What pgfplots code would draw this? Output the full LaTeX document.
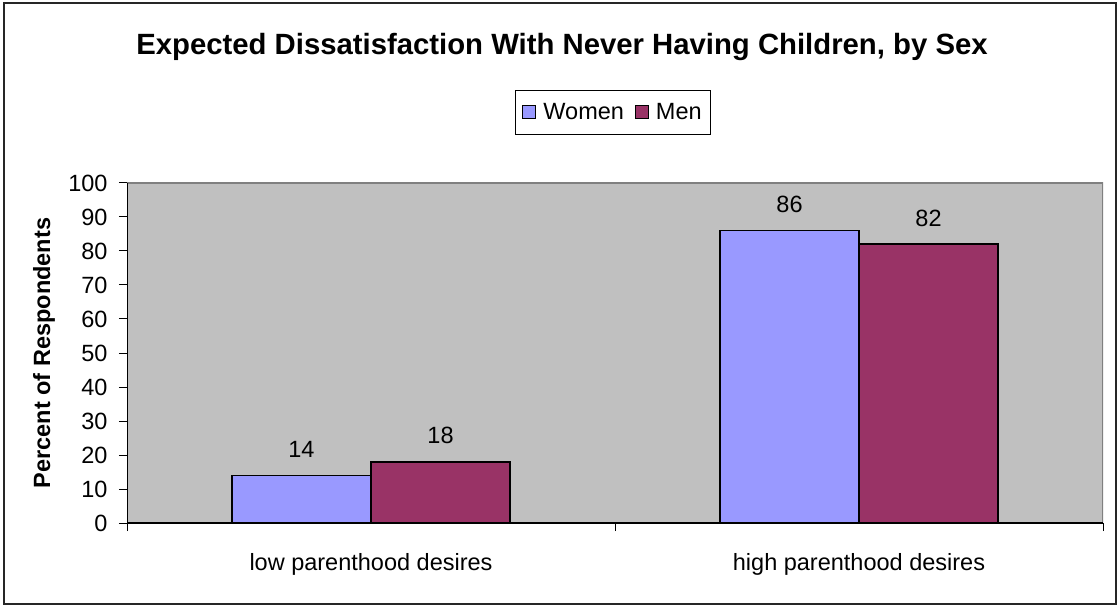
\documentclass[border=0pt]{standalone}
\usepackage{pgfplots}
\pgfplotsset{compat=1.18}
\usepackage{fontspec}
\setmainfont{Liberation Sans}

\definecolor{plotgrey}{HTML}{C0C0C0}
\definecolor{framegrey}{HTML}{808080}
\definecolor{women}{HTML}{9999FF}
\definecolor{men}{HTML}{993366}

\newcommand{\labfont}{\fontsize{23.5}{28}\selectfont}

\begin{document}
\begin{tikzpicture}
\useasboundingbox (0pt,0pt) rectangle (1118pt,608pt);
\draw[line width=1.5pt, black!85] (4pt,4pt) rectangle (1116pt,605pt);

\node[font=\fontsize{29.3}{34}\selectfont\bfseries] at (562pt,561pt)
  {Expected Dissatisfaction With Never Having Children, by Sex};

\begin{axis}[
  at={(127pt,85pt)}, anchor=south west,
  scale only axis, width=976pt, height=340pt,
  xmin=0, xmax=2, ymin=0, ymax=100,
  axis line style={draw=none},
  axis background/.style={fill=plotgrey},
  ybar, bar width=139pt,
  xtick={0,1,2}, xticklabels={},
  extra x ticks={0.5,1.5},
  extra x tick labels={low parenthood desires, high parenthood desires},
  extra x tick style={major tick length=0pt, grid=none},
  ytick={0,10,...,100},
  xtick pos=bottom, ytick pos=left,
  tick align=outside, major tick length=8pt,
  tick style={black, line width=1pt},
  ticklabel style={font=\labfont},
  /pgf/number format/assume math mode=true,
  xticklabel style={yshift=-27pt},
  yticklabel style={xshift=-8pt},
  ylabel={Percent of Respondents},
  every axis y label/.style={at={(axis description cs:-0.085,0.5)}, rotate=90,
    anchor=center, font=\labfont\bfseries},
  nodes near coords,
  every node near coord/.append style={font=\labfont, anchor=center, yshift=26pt, black},
  legend columns=-1,
  legend style={at={(0.498,1.207)}, anchor=center, draw=black, line width=1pt,
    font=\labfont, inner xsep=7pt, inner ysep=11pt,
    /tikz/every even column/.append style={column sep=9pt},
    /tikz/every odd column/.append style={column sep=5pt}},
  legend image code/.code={\draw[#1, draw=black, line width=1pt] (0pt,-6pt) rectangle (13pt,7pt);},
]
\addplot[fill=women, draw=black, line width=1.5pt, bar shift=-69.5pt]
  coordinates {(0.5,14) (1.5,86)};
\addplot[fill=men, draw=black, line width=1.5pt, bar shift=69.5pt]
  coordinates {(0.5,18) (1.5,82)};
\legend{Women, Men}
% plot frame: grey top and right, black left and bottom
\draw[framegrey, line width=1.5pt] (axis cs:0,100) -- (axis cs:2,100) -- (axis cs:2,0);
\draw[black, line width=1.5pt] (axis cs:0,100) -- (axis cs:0,0) -- (axis cs:2,0);
\end{axis}
\end{tikzpicture}
\end{document}
